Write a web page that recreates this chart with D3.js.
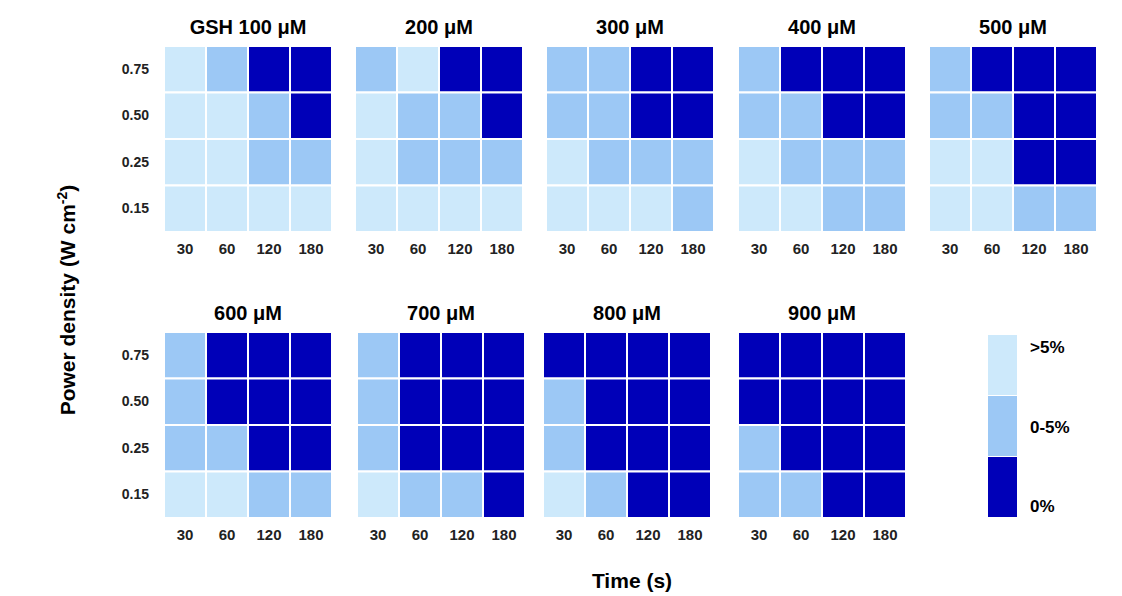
<!DOCTYPE html>
<html><head><meta charset="utf-8">
<script src="https://cdn.jsdelivr.net/npm/d3@7"></script>
<style>body{margin:0;background:#fff}svg{font-family:Arial,"Liberation Sans",sans-serif}</style>
</head><body><svg id="chart"></svg>
<script>
var width = 1122, height = 596;

var times = ["30", "60", "120", "180"];
var powers = ["0.75", "0.50", "0.25", "0.15"];
var titles = ["GSH 100 μM", "200 μM", "300 μM", "400 μM", "500 μM", "600 μM", "700 μM", "800 μM", "900 μM"];
// 0 = >5%, 1 = 0-5%, 2 = 0%; rows top to bottom (0.75 .. 0.15)
var grids = [
    [[0,1,2,2],[0,0,1,2],[0,0,1,1],[0,0,0,0]],
    [[1,0,2,2],[0,1,1,2],[0,1,1,1],[0,0,0,0]],
    [[1,1,2,2],[1,1,2,2],[0,1,1,1],[0,0,0,1]],
    [[1,2,2,2],[1,1,2,2],[0,1,1,1],[0,0,1,1]],
    [[1,2,2,2],[1,1,2,2],[0,0,2,2],[0,0,1,1]],
    [[1,2,2,2],[1,2,2,2],[1,1,2,2],[0,0,1,1]],
    [[1,2,2,2],[1,2,2,2],[1,2,2,2],[0,1,1,2]],
    [[2,2,2,2],[1,2,2,2],[1,2,2,2],[0,1,2,2]],
    [[2,2,2,2],[2,2,2,2],[1,2,2,2],[1,1,2,2]]
];
var legendLabels = [">5%", "0-5%", "0%"];
var colors = ["#cde9fb", "#9cc8f5", "#0000b8"];

var panelX = [164, 355, 546, 738, 929, 164, 357, 543, 738];
var panelY = [46, 46, 46, 46, 46, 332, 332, 332, 332];
var panelW = 168, panelH = 186;

var svg = d3.select("#chart").attr("width", width).attr("height", height);

var color = d3.scaleOrdinal().domain([0, 1, 2]).range(colors);

grids.forEach(function(grid, p) {
    var x = d3.scaleBand().domain(times).range([0, panelW]);
    var y = d3.scaleBand().domain(powers).range([0, panelH]);
    var g = svg.append("g").attr("transform", "translate(" + panelX[p] + "," + panelY[p] + ")");

    var cells = [];
    grid.forEach(function(row, r) {
        row.forEach(function(v, c) { cells.push({t: times[c], pw: powers[r], v: v}); });
    });

    g.selectAll("rect").data(cells).enter().append("rect")
        .attr("x", function(d) { return x(d.t); })
        .attr("y", function(d) { return y(d.pw); })
        .attr("width", x.bandwidth())
        .attr("height", y.bandwidth())
        .attr("fill", function(d) { return color(d.v); })
        .attr("stroke", "#fff")
        .attr("stroke-width", 2);

    g.append("text").attr("x", panelW / 2).attr("y", -12)
        .attr("text-anchor", "middle").style("font-size", "20px").style("font-weight", "bold")
        .text(titles[p]);

    var xa = g.append("g").attr("transform", "translate(0," + (panelH + 8) + ")")
        .call(d3.axisBottom(x).tickSize(0));
    xa.select(".domain").remove();
    xa.selectAll("text").style("font-size", "15px").style("font-weight", "bold").attr("fill", "#222");

    if (p === 0 || p === 5) {
        var ya = g.append("g").attr("transform", "translate(-12,0)")
            .call(d3.axisLeft(y).tickSize(0));
        ya.select(".domain").remove();
        ya.selectAll("text").style("font-size", "14px").style("font-weight", "bold").attr("fill", "#222");
    }
});

// legend
var ly = d3.scaleBand().domain(legendLabels).range([335, 518]);
var lg = svg.append("g");
lg.selectAll("rect").data(legendLabels).enter().append("rect")
    .attr("x", 988).attr("y", function(d) { return ly(d); })
    .attr("width", 29).attr("height", ly.bandwidth() - 1)
    .attr("fill", function(d, i) { return colors[i]; });
lg.selectAll("text").data(legendLabels).enter().append("text")
    .attr("x", 1030).attr("y", function(d, i) { return ly(d) + (i === 0 ? 18 : i === 1 ? 37 : 55); })
    .style("font-size", "17px").style("font-weight", "bold")
    .text(function(d) { return d; });

svg.append("text").attr("x", 632).attr("y", 588).attr("text-anchor", "middle")
    .style("font-size", "21px").style("font-weight", "bold").text("Time (s)");

var yl = svg.append("text").attr("transform", "translate(75,300) rotate(-90)")
    .attr("text-anchor", "middle").style("font-size", "21px").style("font-weight", "bold");
yl.append("tspan").text("Power density (W cm");
yl.append("tspan").attr("dy", -8).style("font-size", "14px").text("-2");
yl.append("tspan").attr("dy", 8).text(")");
</script></body></html>
